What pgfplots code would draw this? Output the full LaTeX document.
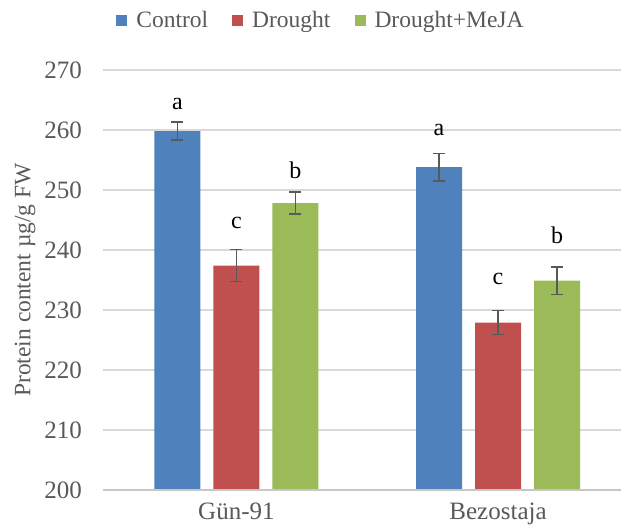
\documentclass[border=0pt]{standalone}
\usepackage{fontspec}
\setmainfont{Liberation Serif}
\usepackage{pgfplots}
\pgfplotsset{compat=1.18}
\definecolor{cctrl}{HTML}{4F81BD}
\definecolor{cdrought}{HTML}{C0504D}
\definecolor{cmeja}{HTML}{9BBB59}
\definecolor{txtgray}{HTML}{595959}
\definecolor{gridgray}{HTML}{D9D9D9}
\begin{document}
\begin{tikzpicture}
\begin{axis}[
  name=ax,
  scale only axis,
  width=518pt, height=420pt,
  xmin=-0.51, xmax=1.47,
  ymin=200, ymax=270,
  ytick={200,210,...,270},
  xtick={0,1},
  xticklabels={Gün-91,Bezostaja},
  major tick length=0pt,
  axis line style={draw=none},
  axis x line*=bottom,
  axis y line*=left,
  ymajorgrids,
  grid style={gridgray, line width=1.3pt},
  tick label style={font=\fontsize{25}{28}\selectfont, text=txtgray},
  yticklabel style={anchor=east, inner sep=0pt, xshift=-21pt},
  xticklabel style={anchor=north, inner sep=0pt, yshift=-13pt},
  /pgf/number format/assume math mode=true,
  ylabel={Protein content µg/g FW},
  ylabel style={at={(axis description cs:-0.1505,0.5)}, anchor=center, rotate=0, font=\fontsize{23.5}{26}\selectfont, text=txtgray},
  ybar, bar width=46pt,
  legend columns=3,
  legend style={at={(axis description cs:0.4208,1.119)}, anchor=center, draw=none, fill=none,
    font=\fontsize{23.5}{26}\selectfont, text=txtgray,
    /tikz/every odd column/.append style={column sep=7pt},
    /tikz/every even column/.append style={column sep=22pt}},
  legend image code/.code={\fill[#1] (0pt,-5.5pt) rectangle (11pt,5.5pt);},
  error bars/y dir=both, error bars/y explicit,
  error bars/error bar style={txtgray, line width=1.6pt},
  error bars/error mark options={rotate=90, txtgray, mark size=6pt, line width=1.6pt},
  clip=false,
]
\addplot[fill=cctrl, draw=none, bar shift=-59pt] coordinates {(0,259.8) +- (0,1.5) (1,253.8) +- (0,2.3)};
\addplot[fill=cdrought, draw=none, bar shift=0pt] coordinates {(0,237.4) +- (0,2.65) (1,227.9) +- (0,2.0)};
\addplot[fill=cmeja, draw=none, bar shift=59pt] coordinates {(0,247.8) +- (0,1.85) (1,234.9) +- (0,2.3)};
\legend{Control,Drought,Drought+MeJA}
\draw[color=gridgray!80!gray, line width=1.3pt] (rel axis cs:0,0) -- (rel axis cs:1,0);
\node[anchor=base, font=\fontsize{24}{26}\selectfont] at (axis cs:-0.2255,263.45) {a};
\node[anchor=base, font=\fontsize{24}{26}\selectfont] at (axis cs:0,243.6) {c};
\node[anchor=base, font=\fontsize{24}{26}\selectfont] at (axis cs:0.2255,251.9) {b};
\node[anchor=base, font=\fontsize{24}{26}\selectfont] at (axis cs:0.7745,259.0) {a};
\node[anchor=base, font=\fontsize{24}{26}\selectfont] at (axis cs:1,234.2) {c};
\node[anchor=base, font=\fontsize{24}{26}\selectfont] at (axis cs:1.2255,241.0) {b};
\end{axis}
\path[use as bounding box] ([xshift=-103pt,yshift=-41pt]ax.south west) rectangle ([xshift=9pt,yshift=70pt]ax.north east);
\end{tikzpicture}
\end{document}
